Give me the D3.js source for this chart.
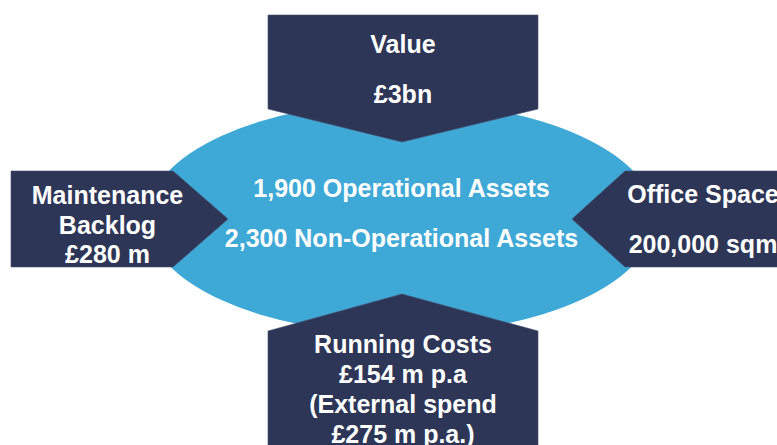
<!DOCTYPE html>
<html>
<head>
<meta charset="utf-8">
<script src="https://cdn.jsdelivr.net/npm/d3@7"></script>
<style>
  html, body { margin: 0; padding: 0; background: #fff; }
  svg { display: block; }
  .lbl { font-family: "Liberation Sans", Arial, sans-serif; font-weight: bold; fill: #fff; }
</style>
</head>
<body>
<svg id="chart" width="777" height="445"></svg>
<script>
// text of each box
var centreLines = ['1,900 Operational Assets', '2,300 Non-Operational Assets'];
var topLines = ['Value', '£3bn'];
var leftLines = ['Maintenance', 'Backlog', '£280 m'];
var rightLines = ['Office Space', '200,000 sqm'];
var bottomLines = ['Running Costs', '£154 m p.a', '(External spend', '£275 m p.a.)'];

var W = 777, H = 445;
var navy = '#2d3656', sky = '#3ea8d6';

var svg = d3.select('#chart');

// centre blob
svg.append('ellipse')
  .attr('cx', 401)
  .attr('cy', 218)
  .attr('rx', 254)
  .attr('ry', 116)
  .style('fill', sky)
;

var line = d3.line();

// arrows pointing in to the blob
var arrows = [
  {name: 'top',    pts: [[268, 15], [538, 15], [538, 109], [402, 142], [268, 109]]},
  {name: 'left',   pts: [[11, 171], [173, 171], [228, 219], [173, 267], [11, 267]]},
  {name: 'right',  pts: [[625, 171], [W + 5, 171], [W + 5, 267], [625, 267], [572, 219]]},
  {name: 'bottom', pts: [[402, 294], [538, 331], [538, H + 5], [268, H + 5], [268, 331]]}
];

svg.selectAll('path.arrow')
  .data(arrows)
  .enter().append('path')
    .attr('class', function(d) { return 'arrow ' + d.name; })
    .attr('d', function(d) { return line(d.pts) + 'Z'; })
    .style('fill', navy)
    .style('stroke', '#4a5272')
    .style('stroke-width', 0.6)
;

var blocks = [
  {lines: topLines,    x: 403,   y: 53,  step: 50},
  {lines: centreLines, x: 401.5, y: 197, step: 50},
  {lines: leftLines,   x: 107.5, y: 204, step: 29.5},
  {lines: rightLines,  x: 703,   y: 203, step: 50},
  {lines: bottomLines, x: 403,   y: 353, step: 30}
];

blocks.forEach(function(b) {
  svg.append('text')
    .attr('class', 'lbl')
    .attr('text-anchor', 'middle')
    .style('font-size', '25px')
    .selectAll('tspan')
    .data(b.lines)
    .enter().append('tspan')
      .attr('x', b.x)
      .attr('y', function(d, i) { return b.y + i * b.step; })
      .text(function(d) { return d; })
  ;
});
</script>
</body>
</html>
